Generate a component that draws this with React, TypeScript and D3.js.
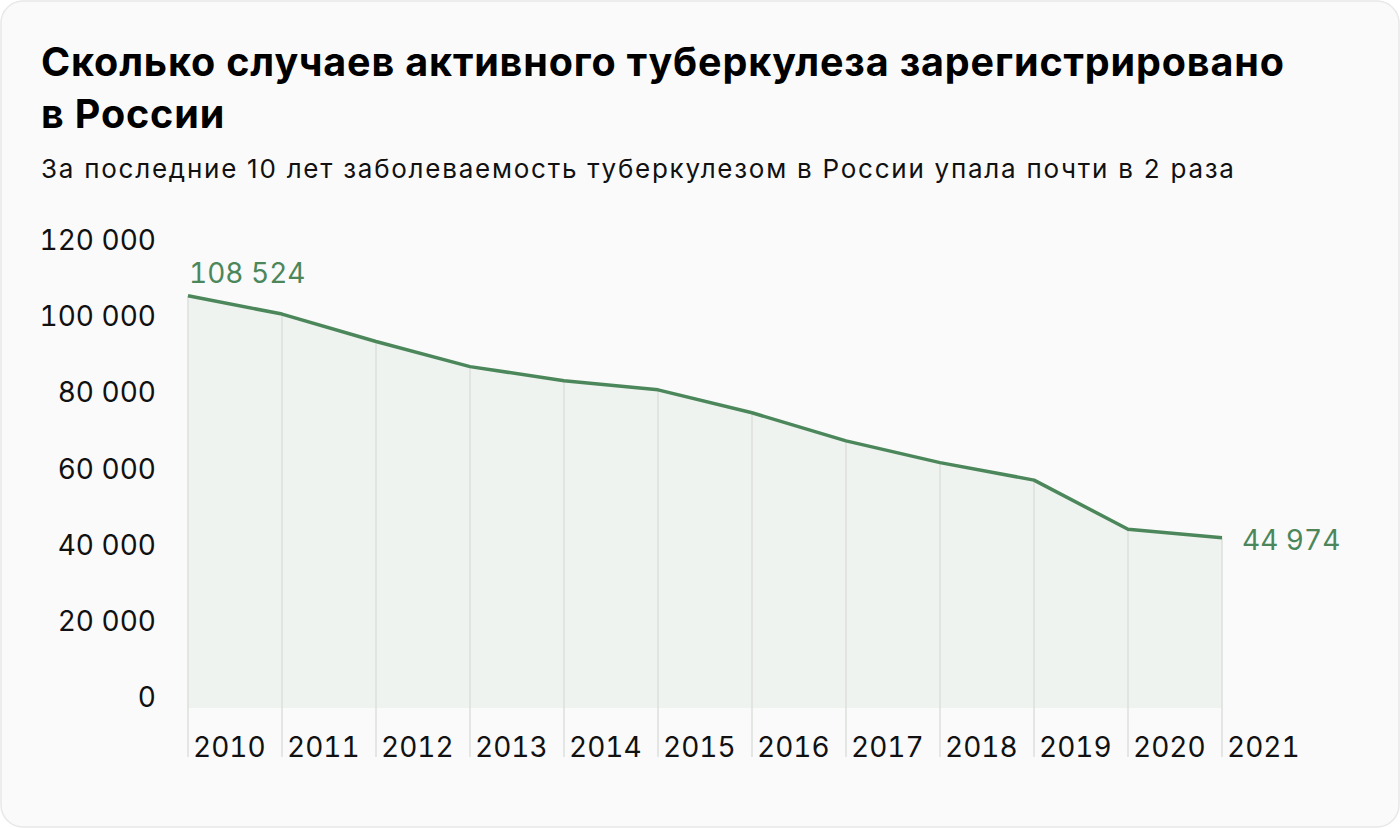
import { useEffect, useRef } from 'react';
import * as d3 from 'd3';

const years = ['2010', '2011', '2012', '2013', '2014', '2015', '2016', '2017', '2018', '2019', '2020', '2021'];
const cases = [108524, 103700, 96500, 89900, 86200, 83800, 77800, 70400, 64700, 60100, 47200, 44974];
const yTicks = [0, 20000, 40000, 60000, 80000, 100000, 120000];

const title = ['Сколько случаев активного туберкулеза зарегистрировано', 'в России'];
const subtitle = 'За последние 10 лет заболеваемость туберкулезом в России упала почти в 2 раза';

const W = 1400;
const H = 828;
const green = '#4b875a';
const font = 'Inter, "Noto Sans", sans-serif';

// "120 000" style numbers
const fmt = (v: number) => d3.format(',')(v).replace(/,/g, ' ');

const App = () => {
  const svgRef = useRef<SVGSVGElement>(null);

  useEffect(() => {
    document.body.style.margin = '0';
    const svg = d3.select(svgRef.current);
    svg.selectAll('*').remove();

    svg.append('rect')
      .attr('x', 1).attr('y', 1)
      .attr('width', W - 2).attr('height', H - 2)
      .attr('rx', 22)
      .attr('fill', '#fafafa')
      .attr('stroke', '#e8e8e8')
      .attr('stroke-width', 1.5);

    const head = svg.append('g').attr('font-family', font);
    head.selectAll('text.title')
      .data(title)
      .join('text')
      .attr('class', 'title')
      .attr('x', 41)
      .attr('y', (d, i) => 76 + i * 52)
      .attr('font-size', 39.5)
      .attr('font-weight', 700)
      .attr('letter-spacing', 0.85)
      .attr('fill', '#000')
      .text(d => d);

    head.append('text')
      .attr('x', 41)
      .attr('y', 178)
      .attr('font-size', 26)
      .attr('letter-spacing', 1.75)
      .attr('fill', '#111')
      .text(subtitle);

    const x = d3.scalePoint<string>()
      .domain(years)
      .range([188, 1222]);

    const y = d3.scaleLinear()
      .domain([0, 120000])
      .range([709, 252]);

    const points = years.map((yr, i) => ({ yr, v: cases[i] }));

    const area = d3.area<{ yr: string; v: number }>()
      .x(d => x(d.yr)!)
      .y0(y(0) - 1)
      .y1(d => y(d.v));

    const line = d3.line<{ yr: string; v: number }>()
      .x(d => x(d.yr)!)
      .y(d => y(d.v));

    svg.append('path')
      .datum(points)
      .attr('fill', '#eef3ef')
      .attr('d', area);

    // vertical grid lines per year
    svg.append('g')
      .selectAll('line')
      .data(years)
      .join('line')
      .attr('x1', d => x(d)!)
      .attr('x2', d => x(d)!)
      .attr('y1', (d, i) => y(cases[i]))
      .attr('y2', 757)
      .attr('stroke', '#dcdfdc')
      .attr('stroke-width', 1.5);

    svg.append('path')
      .datum(points)
      .attr('fill', 'none')
      .attr('stroke', green)
      .attr('stroke-width', 3.5)
      .attr('stroke-linejoin', 'round')
      .attr('d', line);

    // y axis labels
    svg.append('g')
      .attr('font-family', font)
      .attr('font-size', 28)
      .attr('fill', '#111')
      .attr('text-anchor', 'end')
      .style('font-variant-numeric', 'tabular-nums')
      .selectAll('text')
      .data(yTicks)
      .join('text')
      .attr('x', 156)
      .attr('y', d => y(d) - 2)
      .text(d => fmt(d));

    // year labels
    svg.append('g')
      .attr('font-family', font)
      .attr('font-size', 28)
      .attr('fill', '#111')
      .style('font-variant-numeric', 'tabular-nums')
      .selectAll('text')
      .data(years)
      .join('text')
      .attr('x', d => x(d)! + 5)
      .attr('y', 757)
      .text(d => d);

    // first and last values
    const first = points[0];
    const last = points[points.length - 1];
    const labels = svg.append('g')
      .attr('font-family', font)
      .attr('font-size', 28)
      .attr('fill', green)
      .style('font-variant-numeric', 'tabular-nums');
    labels.append('text')
      .attr('x', x(first.yr)! + 1)
      .attr('y', y(first.v) - 13)
      .text(fmt(first.v));
    labels.append('text')
      .attr('x', x(last.yr)! + 20)
      .attr('y', y(last.v) + 12)
      .text(fmt(last.v));
  }, []);

  return <svg ref={svgRef} width={W} height={H} style={{ display: 'block' }} />;
};

export default App;
